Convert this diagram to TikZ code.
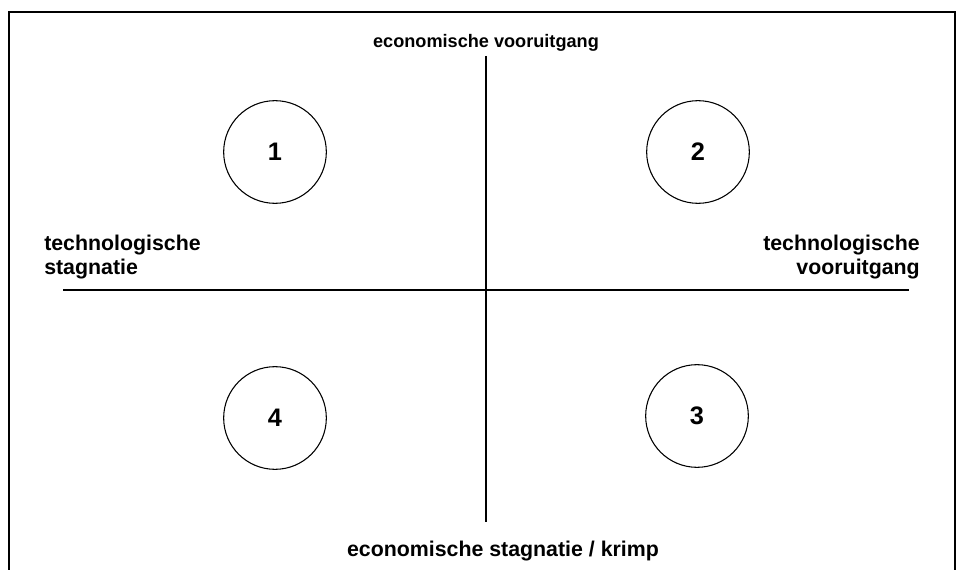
\documentclass[tikz,border=0pt]{standalone}
\usepackage{fontspec}
\setmainfont{Liberation Sans}
\begin{document}
\begin{tikzpicture}[x=0.75pt,y=-0.75pt,
  lbl/.style={font=\fontsize{16pt}{17.5pt}\selectfont\bfseries, inner sep=0pt},
  toplbl/.style={font=\fontsize{13.6pt}{16pt}\selectfont\bfseries, inner sep=0pt},
  num/.style={circle, draw, line width=0.8pt, minimum size=77pt, inner sep=0pt, font=\fontsize{19pt}{22pt}\selectfont\bfseries},
  axis/.style={line width=1pt}]
\useasboundingbox (0,0) rectangle (960,570);
% frame (open at the bottom)
\draw[line width=1.6pt] (9,575) -- (9,12) -- (955,12) -- (955,575);
% axes
\coordinate (vt) at (486,56);
\coordinate (vb) at (486,522);
\coordinate (hl) at (63,290);
\coordinate (hr) at (909,290);
\draw[axis] (vt) -- (vb);
\draw[axis] (hl) -- (hr);
% labels
\node[toplbl] (top) at (486,43) {economische vooruitgang};
\node[lbl] (bot) at (503,551) {economische stagnatie / krimp};
\node[lbl, align=left, anchor=west] (left) at (44,257) {technologische\\stagnatie};
\node[lbl, align=right, anchor=east] (right) at (920,257) {technologische\\vooruitgang};
% circles
\node[num] (c1) at (275,152) {1};
\node[num] (c2) at (698,152) {2};
\node[num] (c3) at (697,416) {3};
\node[num] (c4) at (275,418) {4};
\end{tikzpicture}
\end{document}
